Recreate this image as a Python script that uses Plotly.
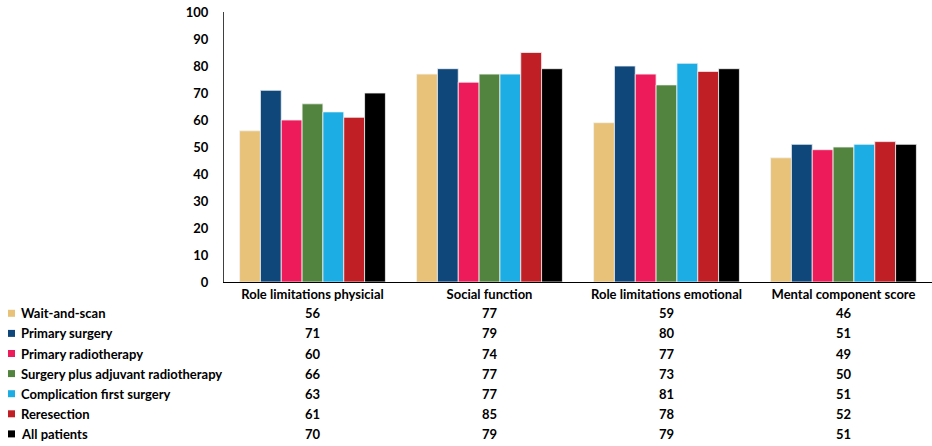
import plotly.graph_objects as go

categories = ["Role limitations physicial", "Social function",
              "Role limitations emotional", "Mental component score"]
series_names = ["Wait-and-scan", "Primary surgery", "Primary radiotherapy",
                "Surgery plus adjuvant radiotherapy", "Complication first surgery",
                "Reresection", "All patients"]
wait_and_scan = [56, 77, 59, 46]
primary_surgery = [71, 79, 80, 51]
primary_radiotherapy = [60, 74, 77, 49]
surgery_plus_adjuvant = [66, 77, 73, 50]
complication_first_surgery = [63, 77, 81, 51]
reresection = [61, 85, 78, 52]
all_patients = [70, 79, 79, 51]
series_values = [wait_and_scan, primary_surgery, primary_radiotherapy,
                 surgery_plus_adjuvant, complication_first_surgery,
                 reresection, all_patients]
y_ticks = [0, 10, 20, 30, 40, 50, 60, 70, 80, 90, 100]

colors = ["#E7C278", "#10477B", "#EE1B5A", "#52843F", "#1BADE3", "#C11F26", "#000000"]

W, H = 932, 446
ML, MR, MT, MB = 224, 0, 12, 164
PW = W - ML - MR
PH = H - MT - MB

FONT = "Lato"
FS = 13

def px_x(px):
    return (px - ML) / PW

def px_y(py):
    return (H - MB - py) / PH

fig = go.Figure()
for name, vals, col in zip(series_names, series_values, colors):
    fig.add_trace(go.Bar(
        x=categories, y=vals, name=name,
        marker=dict(color=col, line=dict(color="#F2F2F2", width=0.8)),
        showlegend=False,
    ))

annotations = []
shapes = []
row_y0 = 313.3
row_step = 20.1
for i, (name, vals, col) in enumerate(zip(series_names, series_values, colors)):
    py = row_y0 + i * row_step
    yp = px_y(py)
    # legend key
    shapes.append(dict(type="rect", xref="paper", yref="paper",
                       x0=px_x(8), x1=px_x(15),
                       y0=px_y(py + 3.5), y1=px_y(py - 3.5),
                       fillcolor=col, line=dict(width=0)))
    annotations.append(dict(xref="paper", yref="paper", x=px_x(19), y=yp,
                            xanchor="left", yanchor="middle", showarrow=False,
                            text=name,
                            font=dict(family=FONT, size=FS, color="#000000", weight="bold")))
    for cat, v in zip(categories, vals):
        annotations.append(dict(xref="x", yref="paper", x=cat, y=yp,
                                xanchor="center", yanchor="middle", showarrow=False,
                                text=str(v),
                                font=dict(family=FONT, size=FS, color="#000000", weight="bold")))

fig.update_layout(
    width=W, height=H,
    margin=dict(l=ML, r=MR, t=MT, b=MB, pad=0),
    paper_bgcolor="white", plot_bgcolor="white",
    barmode="group", bargap=0.176, bargroupgap=0,
    font=dict(family=FONT, size=FS, color="#000000", weight="bold"),
    xaxis=dict(showline=True, linecolor="#000000", linewidth=1, ticks="",
               showgrid=False, tickfont=dict(family=FONT, size=FS, weight="bold"),
               zeroline=False),
    yaxis=dict(range=[0, 100], tickvals=y_ticks, showline=True, linecolor="#404040",
               linewidth=1, ticks="", showgrid=False, zeroline=False,
               tickfont=dict(family=FONT, size=FS, weight="bold"), ticklabelstandoff=12),
    annotations=annotations, shapes=shapes,
)

fig.write_html("out.html")
